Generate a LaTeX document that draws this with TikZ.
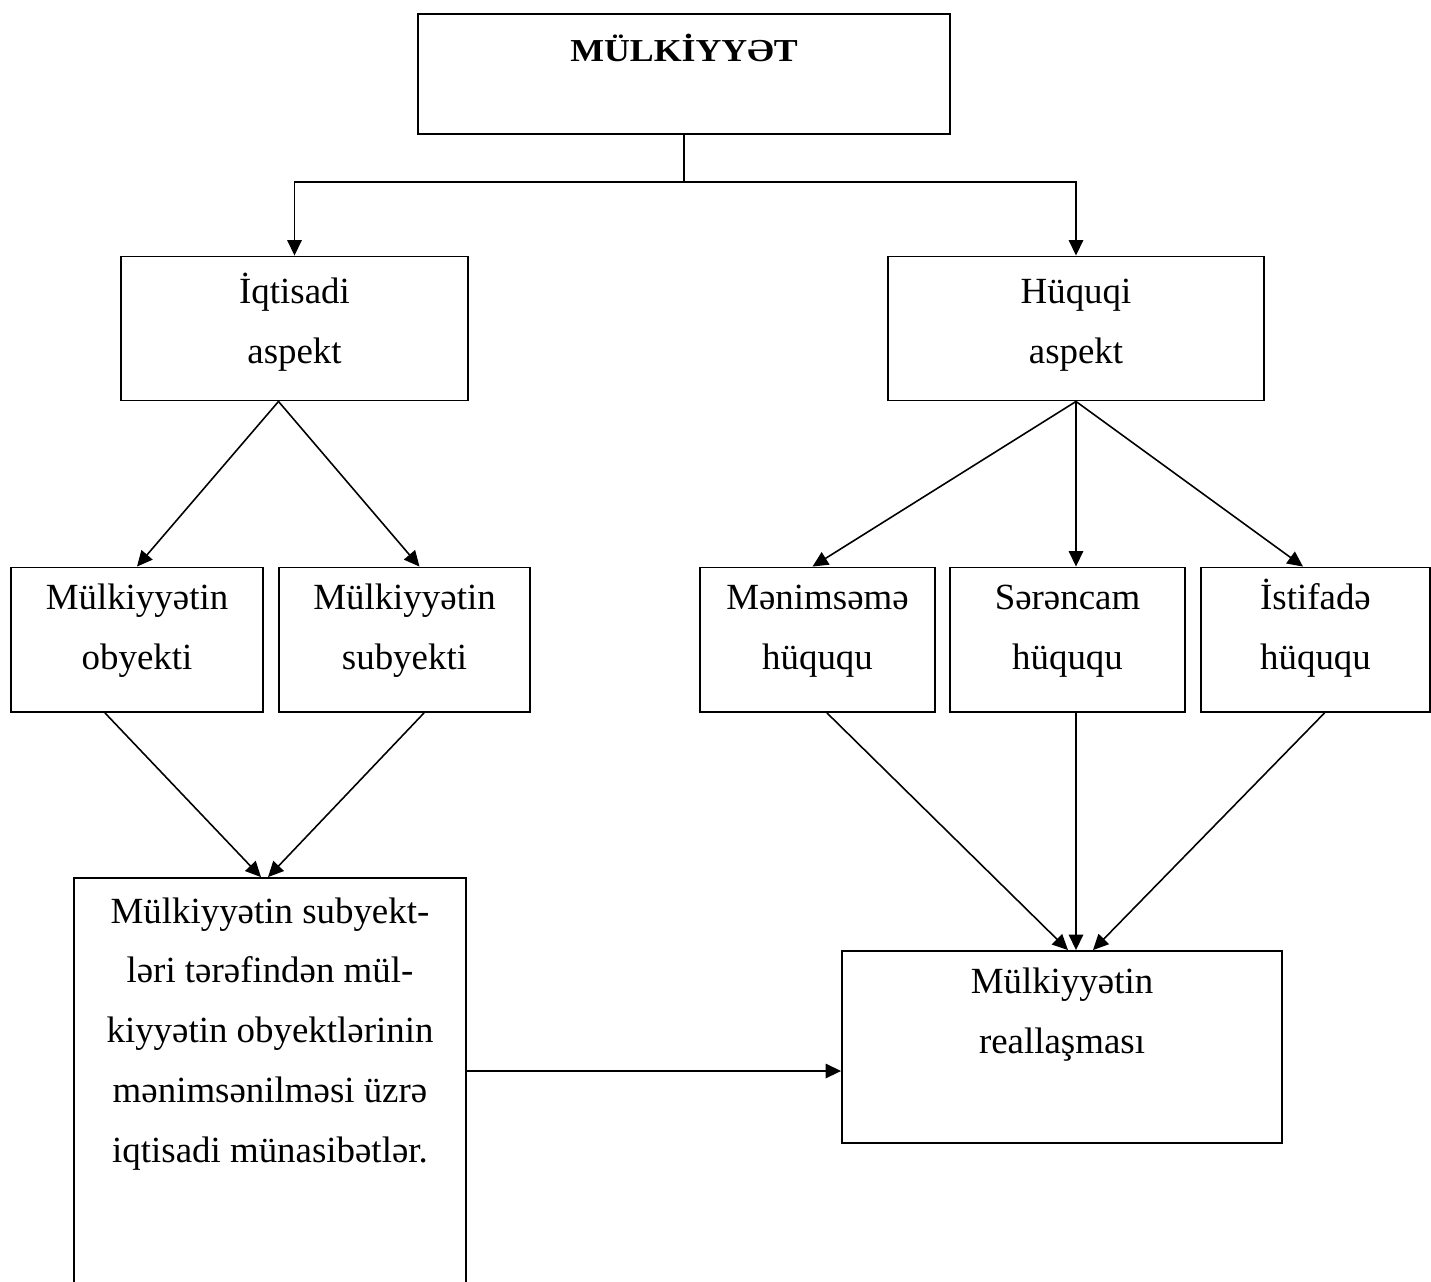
\documentclass[tikz,border=0pt]{standalone}
\usepackage{fontspec}
\setmainfont{Liberation Serif}
\newfontfamily\titlefont{Liberation Serif}[FakeStretch = 1.12]
\usetikzlibrary{arrows.meta}

\begin{document}
\begin{tikzpicture}[x = 0.02cm, y = -0.02cm,
	box/.style = {draw, line width = 1.1pt, anchor = base, align = center, inner xsep = 0pt, inner ysep = 0pt, font = \fontsize{21pt}{34pt}\selectfont},
	arr/.style = {line width = 0.9pt, -{Triangle[length = 0.31cm, width = 0.29cm]}}]
	
	\useasboundingbox (0, 0) rectangle (1431, 1282);
	
	% boxes (anchored at the baseline of the last line)
	\node[box, minimum width = 10.64cm, text height = 0.94cm, text depth = 1.46cm, font = \titlefont\fontsize{18.2pt}{20pt}\selectfont\bfseries] (mulk) at (684, 61) {MÜLKİYYƏT};
	
	\node[box, minimum width = 6.94cm, text height = 2.13cm, text depth = 0.75cm] (iqt) at (294.5, 363) {İqtisadi\\aspekt};
	\node[box, minimum width = 7.52cm, text height = 2.13cm, text depth = 0.75cm] (huq) at (1076, 363) {Hüquqi\\aspekt};
	
	\node[box, minimum width = 5.04cm, text height = 2.04cm, text depth = 0.85cm] (oby) at (137, 669.5) {Mülkiyyətin\\obyekti};
	\node[box, minimum width = 5.02cm, text height = 2.04cm, text depth = 0.85cm] (sub) at (404.5, 669.5) {Mülkiyyətin\\subyekti};
	
	\node[box, minimum width = 4.7cm, text height = 2.04cm, text depth = 0.85cm] (men) at (817.5, 669.5) {Mənimsəmə\\hüququ};
	\node[box, minimum width = 4.7cm, text height = 2.04cm, text depth = 0.85cm] (ser) at (1067.5, 669.5) {Sərəncam\\hüququ};
	\node[box, minimum width = 4.58cm, text height = 2.04cm, text depth = 0.85cm] (ist) at (1315.5, 669.5) {İstifadə\\hüququ};
	
	\node[box, minimum width = 7.84cm, text height = 5.68cm, text depth = 2.76cm] (big) at (270, 1162) {Mülkiyyətin subyekt-\\ləri tərəfindən mül-\\kiyyətin obyektlərinin\\mənimsənilməsi üzrə\\iqtisadi münasibətlər.};
	
	\node[box, minimum width = 8.8cm, text height = 2.04cm, text depth = 1.8cm] (real) at (1062, 1053) {Mülkiyyətin\\reallaşması};
	
	% arrows
	\coordinate (split) at (684, 182);
	\draw[line width = 0.9pt] (mulk.south) -- (split);
	\draw[arr] (split) -| (iqt.north);
	\draw[arr] (split) -| (huq.north);
	
	\draw[arr] ([xshift = -0.32cm]iqt.south) -- (oby.north);
	\draw[arr] ([xshift = -0.32cm]iqt.south) -- ([xshift = 0.3cm]sub.north);
	
	\draw[arr] (huq.south) -- ([xshift = -0.1cm]men.north);
	\draw[arr] (huq.south) -- (huq.south |- ser.north);
	\draw[arr] (huq.south) -- ([xshift = -0.25cm]ist.north);
	
	\draw[arr] ([xshift = -0.64cm]oby.south) -- ([xshift = -0.18cm]big.north);
	\draw[arr] ([xshift = 0.39cm]sub.south) -- ([xshift = -0.04cm]big.north);
	
	\draw[arr] ([xshift = 0.19cm]men.south) -- ([xshift = 0.12cm]real.north);
	\draw[arr] (huq.south |- ser.south) -- (huq.south |- real.north);
	\draw[arr] ([xshift = 0.18cm]ist.south) -- ([xshift = 0.62cm]real.north);
	
	\coordinate (rin) at ([yshift = -0.48cm]real.west);
	\draw[arr] (rin -| big.east) -- (rin);
\end{tikzpicture}
\end{document}
